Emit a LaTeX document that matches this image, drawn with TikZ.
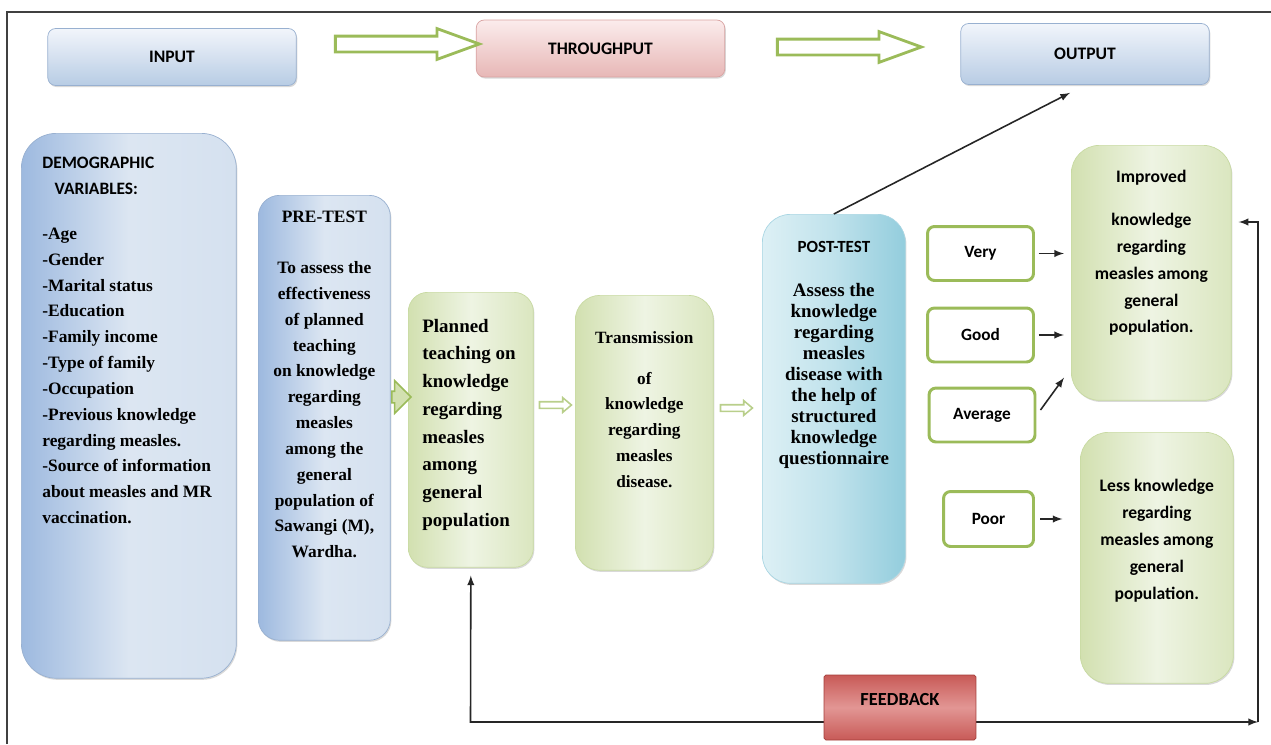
\documentclass[tikz,border=0pt]{standalone}
\usepackage{fontspec}
\setmainfont{Liberation Serif}
\setsansfont{Carlito}
\usetikzlibrary{shapes.arrows,shadows,calc,positioning}

\definecolor{frameGray}{HTML}{404040}
\definecolor{blueTop}{HTML}{F1F5FB}
\definecolor{blueBot}{HTML}{B8CCE4}
\definecolor{blueLine}{HTML}{98B0D0}
\definecolor{blueDark}{HTML}{9DB9DF}
\definecolor{blueLight}{HTML}{DCE6F2}
\definecolor{pinkTop}{HTML}{FBECEC}
\definecolor{pinkBot}{HTML}{E7B7B6}
\definecolor{pinkLine}{HTML}{D9A3A2}
\definecolor{greenDark}{HTML}{D2E0B0}
\definecolor{greenLight}{HTML}{EEF4E3}
\definecolor{greenLine}{HTML}{C8DAA2}
\definecolor{arrGreen}{HTML}{9BBB59}
\definecolor{cyanLight}{HTML}{DDF0F5}
\definecolor{cyanDark}{HTML}{93CDDD}
\definecolor{cyanLine}{HTML}{A9D6E3}
\definecolor{redTop}{HTML}{C85A57}
\definecolor{redMid}{HTML}{E29694}
\definecolor{redLine}{HTML}{A33D3A}

\tikzset{
  shadowed/.style={drop shadow={shadow xshift=0.6pt,shadow yshift=-0.9pt,opacity=0.3}},
  topbox/.style={shadowed,draw=blueLine,rounded corners=4.5pt,top color=blueTop,bottom color=blueBot,minimum width=4.97cm,minimum height=1.14cm,font=\sffamily\bfseries\fontsize{10}{12}\selectfont},
  bluebox/.style={shadowed,draw=blueLine,left color=blueDark,right color=blueLight!80!blueBot,middle color=blueLight,anchor=north west},
  cyanbox/.style={shadowed,draw=cyanLine,left color=cyanLight,right color=cyanDark,middle color=cyanLight!60!cyanDark,anchor=north west},
  greenbox/.style={shadowed,draw=greenLine,left color=greenDark,right color=greenDark!70!greenLight,middle color=greenLight,anchor=north west},
  gradebox/.style={draw=arrGreen,line width=1.7pt,rounded corners=4pt,fill=white,minimum width=2.12cm,minimum height=1.08cm,font=\sffamily\bfseries\fontsize{9.8}{12}\selectfont},
  hollowarr/.style={single arrow,draw=arrGreen,fill=white,line width=1.6pt,inner sep=0.13cm,single arrow head extend=0.15cm,single arrow tip angle=40,minimum height=2.88cm},
  smallarr/.style={single arrow,draw=arrGreen!70,fill=white,line width=0.9pt,inner sep=0.05cm,single arrow head extend=0.08cm,single arrow tip angle=80,minimum height=0.64cm},
  conn/.style={draw=black!85,line width=0.9pt,-latex},
  serifTxt/.style={inner sep=0pt,font=\bfseries\fontsize{9.9}{14.7}\selectfont},
  sansTxt/.style={inner sep=0pt,font=\sffamily\bfseries\fontsize{10}{15.3}\selectfont}
}

\begin{document}
\begin{tikzpicture}[x=0.02cm,y=-0.02cm]
\useasboundingbox (0,0) rectangle (1271,744);
\draw[frameGray,line width=0.7pt] (7,744) -- (7,12) -- (1271,12);

\node[topbox] (in) at (172,57) {INPUT};
\node[topbox,draw=pinkLine,top color=pinkTop,bottom color=pinkBot] (thru) at (600.5,48.5) {THROUGHPUT};
\node[topbox,minimum height=1.22cm] (out) at (1085,54) {OUTPUT};
\node[hollowarr] (a1) at (396.5,44) {};
\node[hollowarr] (a2) at (838.5,47) {};

\node[bluebox,rounded corners=20pt,minimum width=4.3cm,minimum height=10.9cm] (demo) at (21,133) {};
\node[serifTxt,align=left,below right=0.48cm and 0.42cm of demo.north west] (demo-t)
  {\sffamily DEMOGRAPHIC\\\sffamily\hspace*{7pt}VARIABLES:\\[10.8pt]-Age\\-Gender\\-Marital status\\-Education\\-Family income\\-Type of family\\-Occupation\\-Previous knowledge\\regarding measles.\\-Source of information\\about measles and MR\\vaccination.};

\node[bluebox,rounded corners=12pt,minimum width=2.64cm,minimum height=8.9cm] (pre) at (258,195) {};
\node[serifTxt,align=center,below=0.32cm of pre.north] (pre-t)
  {PRE-TEST\\[14.2pt]To assess the\\effectiveness\\of planned\\teaching\\on knowledge\\regarding\\measles\\among the\\general\\population of\\Sawangi (M),\\Wardha.};

\node[greenbox,rounded corners=11pt,minimum width=2.5cm,minimum height=5.5cm] (plan) at (408,292) {};
\node[serifTxt,font=\bfseries\fontsize{10.8}{15.8}\selectfont,align=left,below right=0.53cm and 0.28cm of plan.north west] (plan-t)
  {Planned\\teaching on\\knowledge\\regarding\\measles\\among\\general\\population};

\node[greenbox,rounded corners=14pt,minimum width=2.76cm,minimum height=5.5cm] (trans) at (575,295) {};
\node[serifTxt,font=\bfseries\fontsize{9.8}{14.7}\selectfont,align=center,below=0.72cm of trans.north] (trans-t)
  {Transmission\\[8.5pt]of\\knowledge\\regarding\\measles\\disease.};

\node[cyanbox,rounded corners=16pt,minimum width=2.86cm,minimum height=7.38cm] (post) at (762,214) {};
\node[serifTxt,font=\bfseries\fontsize{10.8}{12}\selectfont,align=center,below=0.54cm of post.north] (post-t)
  {{\sffamily\fontsize{9.7}{12}\selectfont POST-TEST}\\[12.8pt]Assess the\\knowledge\\regarding\\measles\\disease with\\the help of\\structured\\knowledge\\questionnaire};

\foreach \name/\lab/\x/\y in {very/Very/980.5/253.5,good/Good/980.5/335,avg/Average/982/415}
  \node[gradebox] (\name) at (\x,\y) {\lab};
\node[gradebox,minimum width=1.8cm,minimum height=1.1cm] (poor) at (988.5,519) {Poor};

\node[greenbox,rounded corners=16pt,minimum width=3.2cm,minimum height=5.1cm] (impr) at (1071,145) {};
\node[sansTxt,align=center,below=0.5cm of impr.north] (impr-t)
  {Improved\\[9pt]knowledge\\regarding\\measles among\\general\\population.};

\node[greenbox,rounded corners=16pt,minimum width=3.06cm,minimum height=5.02cm] (less) at (1080,432) {};
\node[sansTxt,align=center,below=0.94cm of less.north] (less-t)
  {Less knowledge\\regarding\\measles among\\general\\population.};

\node[smallarr,draw=arrGreen,fill=greenDark,minimum height=0.38cm,inner sep=0.1cm,single arrow head extend=0.21cm,single arrow tip angle=90] (a3) at (398.5,397) {};
\node[smallarr] (a4) at (553.5,405) {};
\node[smallarr] (a5) at (734.5,408) {};

\draw[conn] (post.north) -- ($(out.south)+(-15,8)$);
\foreach \name in {very,good}
  \draw[conn,shorten <=2pt,shorten >=4pt] (\name.east) -- (\name.east -| impr.west);
\draw[conn] ($(avg.east)+(4,-5)$) -- ($(impr.south west)+(-7,-23)$);
\draw[conn,shorten <=3pt,shorten >=10pt] (poor.east) -- (poor.east -| less.west);

\coordinate (fbL) at (470.5,722);
\coordinate (fbR) at (1258,722);
\coordinate (fbT) at (1258,222);
\draw[conn,shorten >=4.5pt] (900,722) -- (fbL) -- (plan.south);
\draw[conn] (900,722) -- (fbR);
\draw[conn,shorten >=4pt] (fbR) -- (fbT) -- (fbT -| impr.east);
\node[draw=redLine,rounded corners=1pt,top color=redTop,bottom color=redTop,middle color=redMid,minimum width=3.04cm,minimum height=1.3cm,text depth=9.6pt,font=\sffamily\bfseries\fontsize{10.5}{12}\selectfont] (fb) at (900,707.5) {FEEDBACK};
\end{tikzpicture}
\end{document}
